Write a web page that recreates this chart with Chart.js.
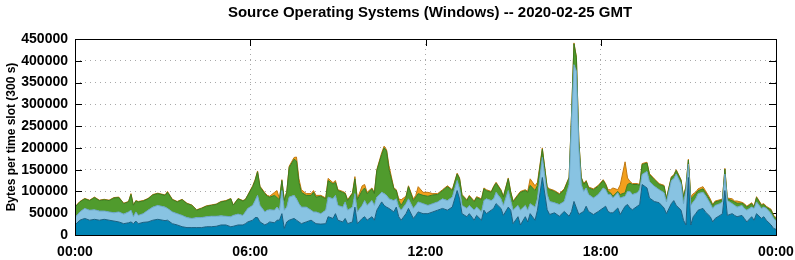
<!DOCTYPE html>
<html>
<head>
<meta charset="utf-8">
<script src="https://cdn.jsdelivr.net/npm/chart.js@4.4.1/dist/chart.umd.min.js"></script>
<style>
html, body { margin: 0; padding: 0; background: #fff; }
#wrap { width: 795px; height: 260px; }
</style>
</head>
<body>
<div id="wrap"><canvas id="chartOs" width="795" height="260"></canvas></div>
<script>
// Source OS traffic, stacked areas, one sample per reading (minutes since 00:00 GMT)

var titleText = 'Source Operating Systems (Windows) -- 2020-02-25 GMT';
var yTitle = 'Bytes per time slot (300 s)';

var xTicks = [0, 360, 720, 1080, 1440];
var xTickLabels = ['00:00', '06:00', '12:00', '18:00', '00:00'];
var yTicks = [0, 50000, 100000, 150000, 200000, 250000, 300000, 350000, 400000, 450000];

var minutes = [
    0, 10, 20, 30, 40, 50, 60, 70, 80, 90,
    100, 110, 115, 120, 125, 130, 140, 150, 160, 170,
    185, 190, 200, 210, 220, 230, 240, 250, 260, 270,
    280, 290, 300, 310, 320, 325, 335, 345, 350, 355,
    365, 370, 375, 380, 390, 395, 400, 410, 415, 420,
    425, 430, 435, 440, 450, 455, 460, 465, 475, 485,
    490, 495, 505, 515, 520, 530, 535, 540, 550, 555,
    560, 570, 575, 580, 590, 595, 600, 610, 615, 620,
    630, 635, 640, 645, 655, 660, 665, 670, 680, 685,
    695, 700, 705, 715, 725, 735, 745, 755, 765, 775,
    785, 790, 795, 805, 810, 820, 825, 835, 840, 845,
    855, 860, 865, 875, 880, 890, 895, 900, 910, 915,
    925, 930, 935, 945, 950, 960, 970, 975, 985, 995,
    1005, 1015, 1020, 1025, 1030, 1035, 1040, 1045, 1050, 1055,
    1065, 1075, 1085, 1090, 1095, 1100, 1105, 1115, 1120, 1130,
    1135, 1140, 1145, 1155, 1160, 1165, 1175, 1180, 1190, 1200,
    1210, 1215, 1225, 1230, 1235, 1245, 1250, 1255, 1260, 1265,
    1270, 1275, 1280, 1290, 1295, 1305, 1310, 1315, 1325, 1330,
    1335, 1340, 1350, 1355, 1360, 1370, 1375, 1380, 1390, 1395,
    1400, 1410, 1415, 1420, 1430, 1435, 1440
];

var osDark = [
    23000, 34000, 38000, 34000, 36000, 34000, 36000, 34000, 32000, 30000,
    26000, 28000, 30000, 26000, 32000, 26000, 29000, 30000, 34000, 36000,
    33000, 34000, 26000, 23000, 19000, 17000, 17000, 17000, 17000, 19000,
    19000, 20000, 23000, 23000, 19000, 20000, 23000, 23000, 26000, 30000,
    34000, 40000, 40000, 30000, 23000, 26000, 30000, 28000, 34000, 34000,
    49000, 15000, 30000, 34000, 38000, 34000, 30000, 26000, 30000, 34000,
    30000, 26000, 25000, 26000, 42000, 38000, 49000, 34000, 30000, 38000,
    26000, 30000, 64000, 26000, 38000, 42000, 34000, 42000, 34000, 57000,
    76000, 68000, 64000, 61000, 53000, 64000, 42000, 34000, 49000, 61000,
    38000, 45000, 53000, 49000, 49000, 53000, 57000, 61000, 57000, 64000,
    102000, 83000, 49000, 42000, 49000, 34000, 45000, 34000, 57000, 49000,
    57000, 61000, 72000, 61000, 45000, 64000, 57000, 26000, 42000, 23000,
    42000, 30000, 49000, 34000, 57000, 132000, 58000, 47000, 51000, 43000,
    54000, 43000, 54000, 77000, 62000, 47000, 51000, 54000, 66000, 54000,
    47000, 54000, 62000, 66000, 54000, 51000, 51000, 62000, 47000, 66000,
    70000, 62000, 58000, 66000, 70000, 116000, 108000, 85000, 77000, 74000,
    62000, 49000, 72000, 79000, 68000, 57000, 34000, 23000, 132000, 23000,
    42000, 49000, 57000, 61000, 53000, 42000, 30000, 38000, 45000, 49000,
    102000, 45000, 49000, 45000, 42000, 45000, 38000, 30000, 42000, 34000,
    49000, 38000, 42000, 34000, 23000, 15000, 13000
];

var osLight = [
    17000, 19000, 23000, 23000, 22000, 21000, 19000, 19000, 19000, 23000,
    22000, 25000, 27000, 16000, 21000, 19000, 20000, 27000, 30000, 32000,
    31000, 27000, 27000, 26000, 26000, 23000, 21000, 23000, 23000, 23000,
    24000, 23000, 21000, 20000, 23000, 25000, 25000, 22000, 27000, 31000,
    34000, 39000, 51000, 38000, 30000, 31000, 28000, 29000, 30000, 23000,
    53000, 42000, 34000, 53000, 53000, 49000, 42000, 38000, 34000, 23000,
    23000, 27000, 24000, 31000, 45000, 45000, 42000, 34000, 34000, 38000,
    31000, 34000, 31000, 27000, 30000, 37000, 34000, 37000, 34000, 30000,
    22000, 27000, 27000, 22000, 26000, 19000, 22000, 23000, 23000, 22000,
    23000, 23000, 23000, 23000, 19000, 19000, 19000, 22000, 22000, 23000,
    23000, 23000, 19000, 19000, 19000, 23000, 19000, 19000, 22000, 34000,
    22000, 22000, 26000, 22000, 23000, 38000, 22000, 31000, 26000, 34000,
    26000, 27000, 23000, 30000, 26000, 46000, 35000, 30000, 23000, 27000,
    23000, 73000, 207000, 314000, 314000, 153000, 65000, 46000, 42000, 39000,
    38000, 39000, 46000, 38000, 39000, 42000, 34000, 35000, 38000, 23000,
    30000, 38000, 35000, 31000, 34000, 23000, 38000, 38000, 35000, 30000,
    35000, 27000, 53000, 50000, 72000, 60000, 38000, 79000, 31000, 45000,
    34000, 34000, 38000, 37000, 38000, 30000, 31000, 30000, 27000, 27000,
    38000, 34000, 23000, 23000, 22000, 23000, 23000, 27000, 22000, 27000,
    27000, 23000, 22000, 27000, 26000, 23000, 20000
];

var osGreen = [
    24000, 23000, 22000, 22000, 28000, 24000, 26000, 26000, 34000, 33000,
    24000, 23000, 36000, 26000, 25000, 31000, 29000, 26000, 28000, 27000,
    27000, 37000, 28000, 27000, 36000, 32000, 30000, 17000, 21000, 24000,
    25000, 27000, 32000, 35000, 41000, 23000, 35000, 33000, 28000, 30000,
    43000, 46000, 54000, 42000, 42000, 32000, 29000, 34000, 22000, 24000,
    23000, 22000, 34000, 68000, 83000, 87000, 49000, 34000, 27000, 34000,
    45000, 34000, 40000, 26000, 38000, 34000, 30000, 34000, 34000, 19000,
    22000, 31000, 34000, 28000, 34000, 29000, 27000, 27000, 27000, 61000,
    87000, 105000, 102000, 68000, 27000, 19000, 15000, 11000, 15000, 28000,
    18000, 19000, 19000, 19000, 21000, 20000, 17000, 19000, 32000, 15000,
    15000, 23000, 23000, 18000, 21000, 19000, 22000, 28000, 27000, 19000,
    19000, 27000, 21000, 19000, 19000, 27000, 19000, 19000, 23000, 41000,
    34000, 41000, 42000, 38000, 31000, 19000, 15000, 27000, 26000, 23000,
    27000, 15000, 15000, 48000, 31000, 15000, 15000, 16000, 15000, 15000,
    19000, 19000, 17000, 12000, 7000, 4000, 4000, 3000, 8000, 8000,
    16000, 19000, 23000, 19000, 10000, 23000, 19000, 16000, 15000, 12000,
    15000, 7000, 7000, 7000, 8000, 8000, 15000, 8000, 9000, 15000,
    13000, 12000, 7000, 8000, 7000, 7000, 7000, 8000, 7000, 5000,
    11000, 4000, 7000, 8000, 9000, 5000, 9000, 7000, 8000, 3000,
    10000, 7000, 6000, 3000, 8000, 5000, 5000
];

var osOrange = [
    1000, 1000, 1000, 1000, 1000, 1000, 1000, 1000, 1000, 1000,
    1000, 1000, 2000, 1000, 1000, 1000, 1000, 1000, 1000, 1000,
    1000, 2000, 1000, 1000, 1000, 1000, 1000, 1000, 1000, 1000,
    1000, 1000, 1000, 1000, 1000, 1000, 1000, 1000, 1000, 1000,
    2000, 2000, 2000, 2000, 2000, 2000, 2000, 7000, 16000, 2000,
    2000, 1000, 2000, 3000, 4000, 9000, 8000, 6000, 4000, 4000,
    4000, 4000, 2000, 2000, 5000, 3000, 4000, 2000, 2000, 2000,
    2000, 2000, 5000, 2000, 11000, 8000, 3000, 2000, 2000, 2000,
    4000, 4000, 3000, 8000, 2000, 2000, 4000, 13000, 2000, 2000,
    4000, 4000, 16000, 7000, 9000, 3000, 2000, 2000, 2000, 2000,
    2000, 2000, 2000, 2000, 2000, 2000, 2000, 2000, 2000, 2000,
    2000, 2000, 2000, 2000, 2000, 2000, 2000, 2000, 2000, 2000,
    2000, 2000, 15000, 11000, 7000, 3000, 2000, 2000, 2000, 2000,
    2000, 2000, 2000, 2000, 2000, 2000, 2000, 2000, 2000, 2000,
    2000, 2000, 2000, 2000, 4000, 7000, 19000, 4000, 22000, 71000,
    15000, 4000, 2000, 2000, 2000, 2000, 2000, 2000, 2000, 2000,
    2000, 2000, 2000, 2000, 2000, 2000, 2000, 2000, 2000, 4000,
    6000, 3000, 4000, 5000, 4000, 4000, 2000, 2000, 2000, 2000,
    2000, 2000, 4000, 2000, 5000, 2000, 2000, 2000, 2000, 2000,
    2000, 2000, 2000, 2000, 2000, 2000, 2000
];

var seriesNames = ['Windows A', 'Windows B', 'Windows C', 'Windows D'];
var fillColors = ['#0084b4', '#88c3e2', '#509b2d', '#f2a01c'];
var lineColors = ['#1b5f80', '#6aa6c6', '#3b7a20', '#c07810'];

var FONT = '"Liberation Sans", Arial, sans-serif';

function points(values) {
    return values.map(function(v, i) { return { x: minutes[i], y: v }; });
}

var frame = {
    id: 'frame',
    beforeDatasetsDraw: function(chart) {
        var ctx = chart.ctx, a = chart.chartArea;
        var xs = chart.scales.x, ys = chart.scales.y;
        ctx.save();
        ctx.strokeStyle = '#000';
        ctx.lineWidth = 1;
        ctx.beginPath();
        yTicks.forEach(function(v) {
            var y = Math.round(ys.getPixelForValue(v)) + 0.5;
            ctx.moveTo(a.left, y); ctx.lineTo(a.left + 7, y);
            ctx.moveTo(a.right - 7, y); ctx.lineTo(a.right, y);
        });
        xTicks.forEach(function(v) {
            var x = Math.round(xs.getPixelForValue(v)) + 0.5;
            ctx.moveTo(x, a.top); ctx.lineTo(x, a.top + 7);
            ctx.moveTo(x, a.bottom - 7); ctx.lineTo(x, a.bottom);
        });
        ctx.stroke();
        ctx.restore();
    },
    afterDatasetsDraw: function(chart) {
        var ctx = chart.ctx, a = chart.chartArea;
        ctx.save();
        ctx.strokeStyle = '#000';
        ctx.lineWidth = 1;
        ctx.strokeRect(Math.round(a.left) + 0.5, Math.round(a.top) + 0.5,
            Math.round(a.right - a.left), Math.round(a.bottom - a.top));
        ctx.restore();
    },
    afterDraw: function(chart) {
        var ctx = chart.ctx;
        ctx.save();
        ctx.fillStyle = '#000';
        ctx.font = 'bold 15px ' + FONT;
        ctx.textAlign = 'center';
        ctx.textBaseline = 'middle';
        ctx.fillText(titleText, 430, 13);
        ctx.restore();
    }
};

new Chart(document.getElementById('chartOs'), {
    type: 'line',
    data: {
        datasets: [osDark, osLight, osGreen, osOrange].map(function(vals, i) {
            return {
                label: seriesNames[i],
                data: points(vals),
                backgroundColor: fillColors[i],
                borderColor: lineColors[i],
                borderWidth: 1,
                fill: i === 0 ? 'origin' : '-1',
                pointRadius: 0,
                tension: 0,
            };
        }),
    },
    options: {
        responsive: false,
        animation: false,
        layout: { padding: { top: 39, right: 19, left: 0, bottom: 0 } },
        plugins: {
            legend: { display: false },
            title: { display: false },
            tooltip: { enabled: false },
        },
        scales: {
            x: {
                type: 'linear',
                min: 0,
                max: 1440,
                afterBuildTicks: function(s) { s.ticks = xTicks.map(function(v) { return { value: v }; }); },
                afterFit: function(s) { s.height = 25; s.paddingLeft = 0; s.paddingRight = 0; },
                ticks: {
                    autoSkip: false,
                    maxRotation: 0,
                    padding: 9,
                    color: '#000',
                    font: { family: FONT, size: 14, weight: 'bold' },
                    callback: function(v) { return xTickLabels[xTicks.indexOf(v)]; },
                },
                grid: { color: '#a8a8a8', lineWidth: 1, drawTicks: false },
                border: { display: false, dash: [1, 4] },
            },
            y: {
                stacked: true,
                min: 0,
                max: 450000,
                afterBuildTicks: function(s) { s.ticks = yTicks.map(function(v) { return { value: v }; }); },
                afterFit: function(s) { s.width = 75; s.paddingTop = 0; s.paddingBottom = 0; },
                ticks: {
                    padding: 7,
                    color: '#000',
                    font: { family: FONT, size: 14, weight: 'bold' },
                    callback: function(v) { return String(v); },
                },
                grid: { color: '#a8a8a8', lineWidth: 1, drawTicks: false },
                border: { display: false, dash: [1, 4] },
                title: {
                    display: true,
                    text: yTitle,
                    color: '#000',
                    font: { family: FONT, size: 12, weight: 'bold' },
                    padding: { top: 4, bottom: 0 },
                },
            },
        },
    },
    plugins: [frame],
});
</script>
</body>
</html>
